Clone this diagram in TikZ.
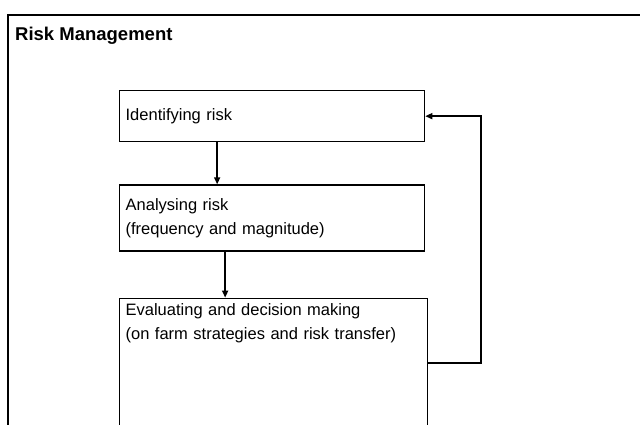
\documentclass[tikz,border=0pt]{standalone}
\usepackage{fontspec}
\setmainfont{Liberation Sans}
\usetikzlibrary{arrows.meta, positioning}

\begin{document}
\begin{tikzpicture}[
    x=1pt, y=-1pt,
    node distance=42pt,
    stage/.style={rectangle, draw, line width=1.3pt, text width=293pt, inner xsep=6pt, inner ysep=5pt, align=left, font=\fontsize{16.5}{24}\selectfont},
    arrow/.style={-{Triangle[length=7pt, width=6pt]}, line width=1.5pt}
]
\useasboundingbox (0,0) rectangle (640,424);
\clip (0,0) rectangle (640,424);
\draw[line width=1.5pt] (8,15) rectangle (660,450);
\node[anchor=base west, inner sep=0pt, font=\bfseries\fontsize{18.5}{22}\selectfont] (title) at (15,40) {Risk Management};
\node[stage, minimum height=51pt, anchor=north west] (identify) at (119,90) {Identifying risk};
\node[stage, minimum height=66pt, below=42pt of identify] (analyse) {Analysing risk\\(frequency and magnitude)};
\node[stage, text width=296pt, text depth=140pt, below=46pt of analyse.south west, anchor=north west] (evaluate) {Evaluating and decision making\\(on farm strategies and risk transfer)};
\coordinate (back) at (481,363);

\draw[arrow] ([xshift=-55pt]identify.south) -- ([xshift=-55pt]analyse.north);
\draw[arrow] ([xshift=-47pt]analyse.south) -- ([xshift=-47pt]analyse.south |- evaluate.north);
\draw[arrow] (evaluate.east |- back) -- (back) |- (identify.east);
\end{tikzpicture}
\end{document}
